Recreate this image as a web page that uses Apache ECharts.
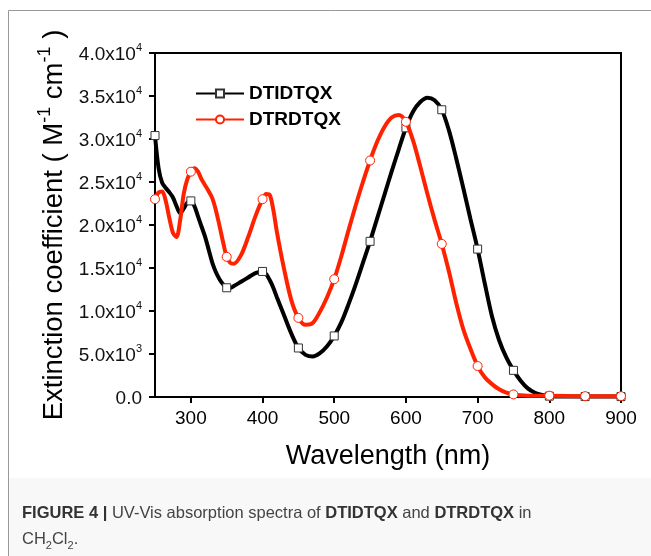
<!DOCTYPE html>
<html>
<head>
<meta charset="utf-8">
<script src="https://cdn.jsdelivr.net/npm/echarts@6/dist/echarts.min.js"></script>
<style>
  html, body { margin: 0; padding: 0; background: #fff; }
  #chart { width: 651px; height: 556px; }
</style>
</head>
<body>
<div id="chart"></div>
<script>
// wavelengths (nm) and extinction coefficients (x10^3 M-1 cm-1)
const wavelength = [250, 255, 260, 265, 270, 275, 280, 285, 290, 295, 300, 305, 310, 315, 320, 325, 330, 335, 340, 345,
  350, 355, 360, 370, 380, 390, 400, 405, 410, 415, 420, 430, 440, 450, 460, 470, 480, 490, 500,
  510, 520, 530, 540, 550, 560, 570, 580, 590, 600, 610, 620, 630, 640, 650, 660, 670, 680, 690, 700,
  710, 720, 730, 740, 750, 760, 770, 780, 790, 800, 850, 900]

const dtidtqx = [30.4, 26.6, 24.9, 24.3, 23.8, 23.2, 22.2, 21.4, 21.9, 22.6, 22.8, 22.2, 21.0, 19.8, 18.6, 17.1, 15.6, 14.5, 13.7, 13.1,
  12.7, 12.7, 12.9, 13.4, 13.9, 14.4, 14.6, 14.3, 13.6, 12.7, 11.6, 9.5, 7.4, 5.7, 4.9, 4.7, 5.1, 5.9, 7.1,
  8.7, 10.8, 13.1, 15.6, 18.1, 20.8, 23.5, 26.2, 28.8, 31.3, 33.2, 34.3, 34.8, 34.5, 33.4, 31.0, 27.8, 24.3, 20.7, 17.2,
  13.2, 9.4, 6.6, 4.6, 3.1, 1.9, 1.0, 0.5, 0.25, 0.1, 0.05, 0.05]

const dtrdtqx = [23.0, 23.8, 23.9, 22.8, 20.8, 19.1, 18.6, 20.5, 23.6, 25.3, 26.2, 26.6, 26.2, 25.3, 24.6, 23.9, 23.1, 21.7, 19.9, 18.0,
  16.3, 15.6, 15.5, 16.5, 18.6, 21.0, 23.0, 23.6, 23.5, 21.8, 19.2, 14.9, 11.3, 9.2, 8.4, 8.6, 9.9, 11.6, 13.7,
  16.4, 19.4, 22.3, 25.0, 27.5, 29.7, 31.4, 32.5, 32.8, 32.0, 29.8, 26.8, 23.6, 20.6, 17.8, 14.6, 11.0, 7.9, 5.6, 3.6,
  2.3, 1.5, 0.9, 0.5, 0.3, 0.2, 0.15, 0.15, 0.15, 0.15, 0.1, 0.1]

const markerStep = 50
const xTicks = [300, 400, 500, 600, 700, 800, 900]

function buildData(values, symbol) {
  return wavelength.map((w, i) => ({
    value: [w, values[i]],
    symbol: w % markerStep === 0 ? symbol : 'none'
  }))
}

function yLabel(v) {
  if (v === 0) return '{m|0.0}'
  if (v < 10) return '{m|' + v.toFixed(1) + 'x10}{s|3}'
  return '{m|' + (v / 10).toFixed(1) + 'x10}{s|4}'
}

const font = 'Liberation Sans, Arial, sans-serif'

const chart = echarts.init(document.getElementById('chart'))

chart.setOption({
  animation: false,
  backgroundColor: '#fff',
  textStyle: { fontFamily: font },
  grid: {
    left: 155, right: 30, top: 53, bottom: 159,
    show: true, borderColor: '#000', borderWidth: 2
  },
  legend: {
    orient: 'vertical',
    left: 190, top: 79,
    itemWidth: 48, itemHeight: 10, itemGap: 7,
    textStyle: { fontSize: 19, fontWeight: 'bold', color: '#000', fontFamily: font },
    data: ['DTIDTQX', 'DTRDTQX']
  },
  xAxis: {
    type: 'value',
    min: 250, max: 900,
    name: 'Wavelength (nm)',
    nameLocation: 'middle',
    nameGap: 46,
    nameTextStyle: { fontSize: 27, color: '#000', fontFamily: font },
    axisLine: { lineStyle: { color: '#000', width: 2 } },
    axisTick: { customValues: xTicks, length: 6, lineStyle: { color: '#000', width: 2 } },
    axisLabel: { customValues: xTicks, fontSize: 19, color: '#000', margin: 12 },
    splitLine: { show: false }
  },
  yAxis: {
    type: 'value',
    min: 0, max: 40, interval: 5,
    name: '{n|Extinction coefficient ( M}{s|-1}{n| cm}{s|-1}{n| )}',
    nameLocation: 'middle',
    nameGap: 86,
    nameRotate: 90,
    nameTextStyle: {
      rich: {
        n: { fontSize: 27.5, color: '#000', fontFamily: font, lineHeight: 32, verticalAlign: 'bottom' },
        s: { fontSize: 18, color: '#000', fontFamily: font, lineHeight: 32, verticalAlign: 'top' }
      }
    },
    axisLine: { lineStyle: { color: '#000', width: 2 } },
    axisTick: { length: 6, lineStyle: { color: '#000', width: 2 } },
    axisLabel: {
      margin: 13,
      formatter: yLabel,
      rich: {
        m: { fontSize: 19, color: '#111', fontFamily: font, lineHeight: 22, verticalAlign: 'bottom' },
        s: { fontSize: 11, color: '#111', fontFamily: font, lineHeight: 22, verticalAlign: 'top' }
      }
    },
    splitLine: { show: false }
  },
  series: [
    {
      name: 'DTIDTQX',
      type: 'line',
      smooth: 0.3,
      showAllSymbol: true,
      symbol: 'rect',
      symbolSize: 8,
      lineStyle: { color: '#000', width: 4 },
      itemStyle: { color: '#fff', borderColor: '#333', borderWidth: 1 },
      data: buildData(dtidtqx, 'rect'),
      z: 2
    },
    {
      name: 'DTRDTQX',
      type: 'line',
      smooth: 0.3,
      showAllSymbol: true,
      symbol: 'circle',
      symbolSize: 9,
      lineStyle: { color: '#ff2200', width: 4 },
      itemStyle: { color: '#fff', borderColor: '#ff2200', borderWidth: 1 },
      data: buildData(dtrdtqx, 'circle'),
      z: 3
    }
  ],
  graphic: [
    {
      type: 'rect', z: -10,
      shape: { x: 9, y: 478, width: 660, height: 100 },
      style: { fill: '#f8f8f8' }
    },
    {
      type: 'rect', z: -5,
      shape: { x: 8.5, y: 10.5, width: 700, height: 600 },
      style: { fill: null, stroke: '#999', lineWidth: 1 }
    },
    {
      type: 'text', left: 22, top: 505,
      style: {
        text: '{b|FIGURE 4 |}{n| UV-Vis absorption spectra of }{b|DTIDTQX}{n| and }{b|DTRDTQX}{n| in}',
        rich: {
          b: { fontSize: 16.5, fontWeight: 'bold', fill: '#333', fontFamily: font },
          n: { fontSize: 16.5, fill: '#444', fontFamily: font }
        }
      }
    },
    {
      type: 'text', left: 22, top: 531,
      style: {
        text: '{n|CH}{sub|2}{n|Cl}{sub|2}{n|.}',
        rich: {
          n: { fontSize: 16.5, fill: '#444', fontFamily: font, lineHeight: 20, verticalAlign: 'top' },
          sub: { fontSize: 11, fill: '#444', fontFamily: font, lineHeight: 20, verticalAlign: 'bottom' }
        }
      }
    }
  ]
})
</script>
</body>
</html>
